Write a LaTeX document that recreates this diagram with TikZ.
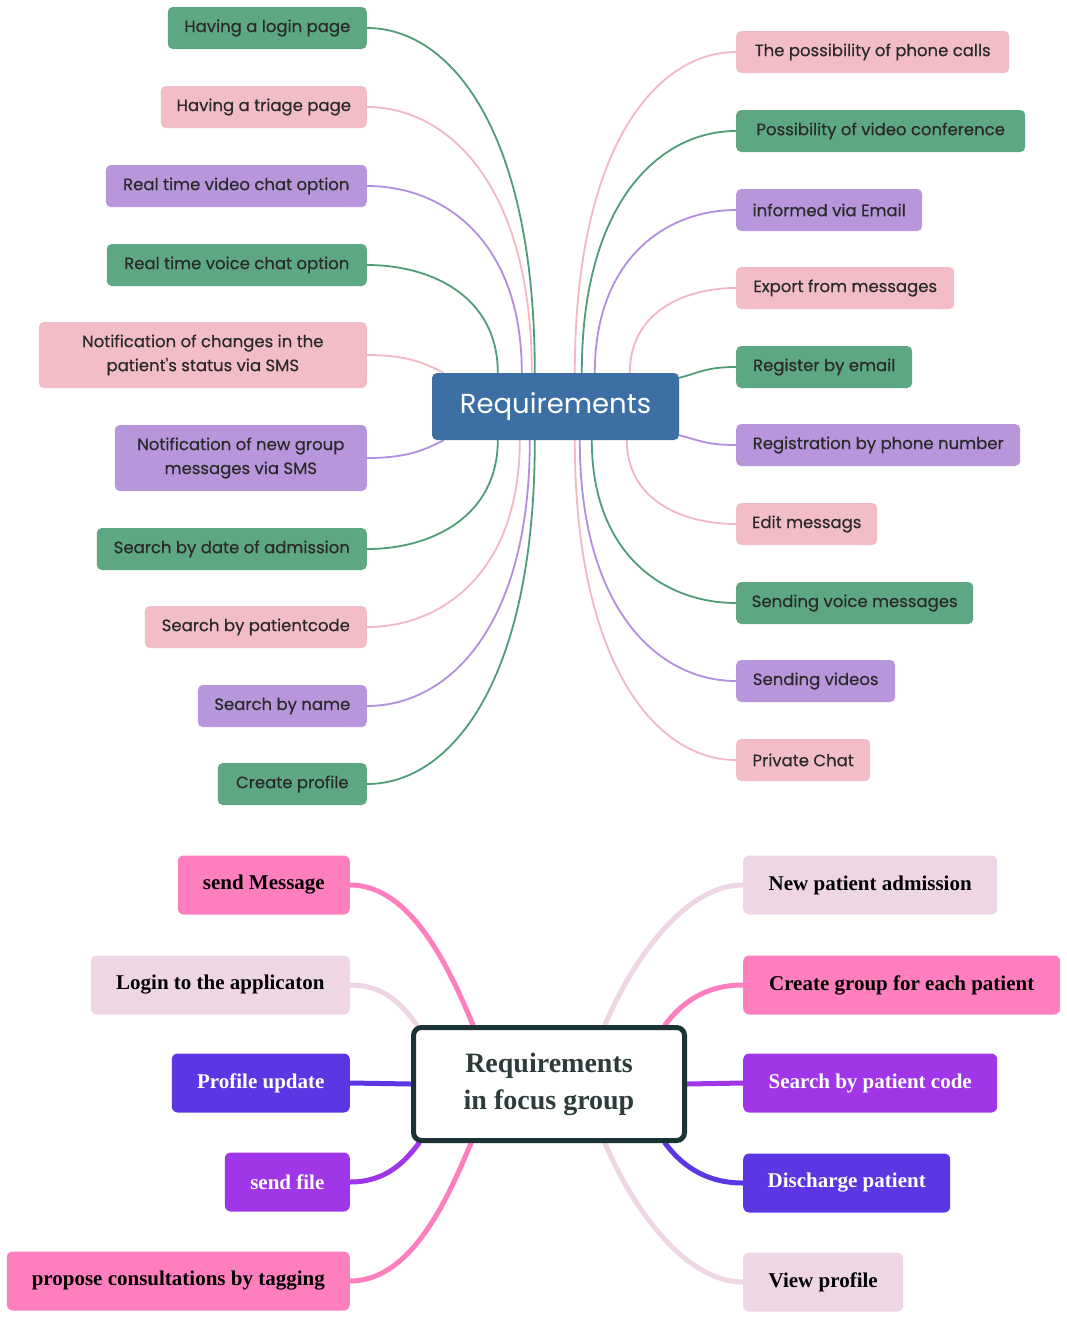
\documentclass[tikz,border=0pt]{standalone}
\usepackage{fontspec}
\setmainfont{Poppins}
\newfontfamily\tfont{Poppins}[FakeBold=0.5]
\newfontfamily\serifbold{Liberation Serif}
\pgfdeclarelayer{bg}
\pgfsetlayers{bg,main}
\definecolor{ngreen}{HTML}{5DA882}
\definecolor{npink}{HTML}{F3BDC8}
\definecolor{npurple}{HTML}{B896DC}
\definecolor{lgreen}{HTML}{4E9D77}
\definecolor{lpink}{HTML}{F2B8C3}
\definecolor{lpurple}{HTML}{B28EE0}
\definecolor{cblue}{HTML}{3C6FA4}
\definecolor{ttxt}{HTML}{2A2A2A}
\definecolor{hotpink}{HTML}{FF7EBE}
\definecolor{lightpink}{HTML}{EFD6E4}
\definecolor{bviolet}{HTML}{5B36E2}
\definecolor{bpurple}{HTML}{A136E8}
\definecolor{cdark}{HTML}{1C3335}
\definecolor{ctxt}{HTML}{2E3B3B}
\tikzset{
  tnode/.style={rectangle, rounded corners=5pt, minimum height=42pt, inner sep=0pt,
    align=center, text=ttxt, font=\tfont\fontsize{16.5}{24}\selectfont},
  tg/.style={tnode, fill=ngreen},
  tp/.style={tnode, fill=npink},
  tv/.style={tnode, fill=npurple},
  tline/.style={line width=1.8pt},
  bnode/.style={rectangle, rounded corners=6pt, minimum height=59pt, inner sep=0pt,
    font=\serifbold\bfseries\fontsize{21}{24}\selectfont},
  bhot/.style={bnode, fill=hotpink, text=black},
  blight/.style={bnode, fill=lightpink, text=black},
  bvio/.style={bnode, fill=bviolet, text=white},
  bpur/.style={bnode, fill=bpurple, text=white},
  bline/.style={line width=5pt, line cap=round}
}
\begin{document}
\begin{tikzpicture}[x=1pt,y=1pt]
\useasboundingbox (0,0) rectangle (1067,-1320);

% ---------- top mind map ----------
\node[rectangle, rounded corners=5pt, fill=cblue, minimum width=247pt, minimum height=67pt,
  inner sep=0pt, text=white, font=\fontsize{27.5}{30}\selectfont] (req) at (555.5,-406.5) {Requirements};

\node[tg, minimum width=199pt, anchor=east] (l1) at (367,-28) {Having a login page};
\node[tp, minimum width=206pt, anchor=east] (l2) at (367,-107) {Having a triage page};
\node[tv, minimum width=261pt, anchor=east] (l3) at (367,-186) {Real time video chat option};
\node[tg, minimum width=260pt, anchor=east] (l4) at (367,-265) {Real time voice chat option};
\node[tp, minimum width=328pt, minimum height=66pt, anchor=east] (l5) at (367,-355) {Notification of changes in the\\patient's status via SMS};
\node[tv, minimum width=252pt, minimum height=66pt, anchor=east] (l6) at (367,-458) {Notification of new group\\messages via SMS};
\node[tg, minimum width=270pt, anchor=east] (l7) at (367,-549) {Search by date of admission};
\node[tp, minimum width=222pt, anchor=east] (l8) at (367,-627) {Search by patientcode};
\node[tv, minimum width=169pt, anchor=east] (l9) at (367,-706) {Search by name};
\node[tg, minimum width=149pt, anchor=east] (l10) at (367,-784) {Create profile};

\node[tp, minimum width=273pt, anchor=west] (r1) at (736,-52) {The possibility of phone calls};
\node[tg, minimum width=289pt, anchor=west] (r2) at (736,-131) {Possibility of video conference};
\node[tv, minimum width=186pt, anchor=west] (r3) at (736,-210) {informed via Email};
\node[tp, minimum width=218pt, anchor=west] (r4) at (736,-288) {Export from messages};
\node[tg, minimum width=176pt, anchor=west] (r5) at (736,-367) {Register by email};
\node[tv, minimum width=284pt, anchor=west] (r6) at (736,-445) {Registration by phone number};
\node[tp, minimum width=141pt, anchor=west] (r7) at (736,-524) {Edit messags};
\node[tg, minimum width=237pt, anchor=west] (r8) at (736,-603) {Sending voice messages};
\node[tv, minimum width=159pt, anchor=west] (r9) at (736,-681) {Sending videos};
\node[tp, minimum width=134pt, anchor=west] (r10) at (736,-760) {Private Chat};

% ---------- bottom mind map ----------
\node[rectangle, rounded corners=8pt, draw=cdark, line width=5pt, fill=white,
  minimum width=271pt, minimum height=113pt, inner sep=0pt, align=center, text=ctxt,
  font=\serifbold\bfseries\fontsize{28}{37}\selectfont] (foc) at (549,-1084) {\raisebox{-4pt}{Requirements}\\\raisebox{-4pt}{in focus group}};

\node[bhot, minimum width=172pt, anchor=east] (b1) at (350,-885) {send Message};
\node[blight, minimum width=259pt, anchor=east] (b2) at (350,-985) {Login to the applicaton};
\node[bvio, minimum width=178pt, anchor=east] (b3) at (350,-1083) {Profile update};
\node[bpur, minimum width=125pt, anchor=east] (b4) at (350,-1182) {send file};
\node[bhot, minimum width=343pt, anchor=east] (b5) at (350,-1281) {propose consultations by tagging};

\node[blight, minimum width=254pt, anchor=west] (c1) at (743,-885) {New patient admission};
\node[bhot, minimum width=317pt, anchor=west] (c2) at (743,-985) {Create group for each patient};
\node[bpur, minimum width=254pt, anchor=west] (c3) at (743,-1083) {Search by patient code};
\node[bvio, minimum width=207pt, anchor=west] (c4) at (743,-1183) {Discharge patient};
\node[blight, minimum width=160pt, anchor=west] (c5) at (743,-1282) {View profile};

\begin{pgfonlayer}{bg}
\fill[white] (0,0) rectangle (1067,-1320);
% top-left connectors
\draw[tline, lgreen]  (l1.east) .. controls +(84,0) and +(0,241) .. ([xshift=103pt]req.north west);
\draw[tline, lpink]   (l2.east) .. controls +(82,0) and +(0,186) .. ([xshift=100pt]req.north west);
\draw[tline, lpurple] (l3.east) .. controls +(78,0) and +(0,131) .. ([xshift=90pt]req.north west);
\draw[tline, lgreen]  (l4.east) .. controls +(65,0) and +(0,76) .. ([xshift=66pt]req.north west);
\draw[tline, lpink]   (l5.east) .. controls +(40,0) and +(-20,10) .. ([xshift=12pt]req.north west);
\draw[tline, lpurple] (l6.east) .. controls +(40,0) and +(-20,-10) .. ([xshift=12pt]req.south west);
\draw[tline, lgreen]  (l7.east) .. controls +(65,0) and +(0,-76) .. ([xshift=66pt]req.south west);
\draw[tline, lpink]   (l8.east) .. controls +(76,0) and +(0,-131) .. ([xshift=88pt]req.south west);
\draw[tline, lpurple] (l9.east) .. controls +(82,0) and +(0,-186) .. ([xshift=98pt]req.south west);
\draw[tline, lgreen]  (l10.east) .. controls +(84,0) and +(0,-241) .. ([xshift=103pt]req.south west);
% top-right connectors
\draw[tline, lpink]   (r1.west) .. controls +(-80,0) and +(0,225) .. ([xshift=143pt]req.north west);
\draw[tline, lgreen]  (r2.west) .. controls +(-77,0) and +(0,170) .. ([xshift=150pt]req.north west);
\draw[tline, lpurple] (r3.west) .. controls +(-70,0) and +(0,114) .. ([xshift=163pt]req.north west);
\draw[tline, lpink]   (r4.west) .. controls +(-53,0) and +(0,60) .. ([xshift=198pt]req.north west);
\draw[tline, lgreen]  (r5.west) .. controls +(-30,0) and +(20,5) .. ([yshift=-5pt]req.north east);
\draw[tline, lpurple] (r6.west) .. controls +(-30,0) and +(20,-5) .. ([yshift=5pt]req.south east);
\draw[tline, lpink]   (r7.west) .. controls +(-55,0) and +(0,-59) .. ([xshift=195pt]req.south west);
\draw[tline, lgreen]  (r8.west) .. controls +(-72,0) and +(0,-114) .. ([xshift=160pt]req.south west);
\draw[tline, lpurple] (r9.west) .. controls +(-78,0) and +(0,-169) .. ([xshift=148pt]req.south west);
\draw[tline, lpink]   (r10.west) .. controls +(-80,0) and +(0,-224) .. ([xshift=143pt]req.south west);
% bottom connectors
\draw[bline, hotpink]   (b1.east) .. controls +(60,0) and +(-25,60) .. ([xshift=62pt]foc.north west);
\draw[bline, lightpink] (b2.east) .. controls +(35,0) and +(-15,20) .. ([xshift=6pt]foc.north west);
\draw[bline, bviolet]   (b3.east) -- (foc.west);
\draw[bline, bpurple]   (b4.east) .. controls +(35,0) and +(-15,-20) .. ([xshift=8pt]foc.south west);
\draw[bline, hotpink]   (b5.east) .. controls +(60,0) and +(-25,-60) .. ([xshift=60pt]foc.south west);
\draw[bline, lightpink] (c1.west) .. controls +(-60,0) and +(25,60) .. ([xshift=-82pt]foc.north east);
\draw[bline, hotpink]   (c2.west) .. controls +(-40,0) and +(15,20) .. ([xshift=-22pt]foc.north east);
\draw[bline, bpurple]   (c3.west) -- (foc.east);
\draw[bline, bviolet]   (c4.west) .. controls +(-40,0) and +(15,-20) .. ([xshift=-22pt]foc.south east);
\draw[bline, lightpink] (c5.west) .. controls +(-60,0) and +(25,-60) .. ([xshift=-82pt]foc.south east);
\end{pgfonlayer}
\end{tikzpicture}
\end{document}
